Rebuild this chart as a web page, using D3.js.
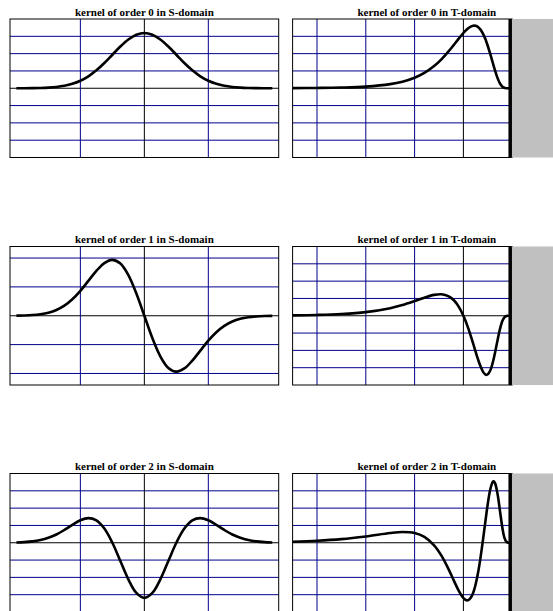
<!DOCTYPE html>
<html><head><meta charset="utf-8">
<script src="https://cdn.jsdelivr.net/npm/d3@7"></script>
<style>html,body{margin:0;padding:0;background:#fff;} svg{display:block;}</style>
</head><body><svg id="c" width="553" height="611"></svg>
<script>
// ---------- data ----------
const titles = [
  ["kernel of order 0 in S-domain", "kernel of order 0 in T-domain"],
  ["kernel of order 1 in S-domain", "kernel of order 1 in T-domain"],
  ["kernel of order 2 in S-domain", "kernel of order 2 in T-domain"]
];
// S-domain abscissa
const sX = [-2,-1.875,-1.75,-1.625,-1.5,-1.375,-1.25,-1.125,-1,-0.875,-0.75,-0.625,-0.5,-0.375,-0.25,-0.125,0,
            0.125,0.25,0.375,0.5,0.625,0.75,0.875,1,1.125,1.25,1.375,1.5,1.625,1.75,1.875,2];
const sOrder0 = [0.0003,0.0007,0.0017,0.0041,0.0089,0.0182,0.0351,0.0635,0.1080,0.1726,0.2591,0.3653,0.4839,0.6023,0.7041,0.7733,0.7979,
                 0.7733,0.7041,0.6023,0.4839,0.3653,0.2591,0.1726,0.1080,0.0635,0.0351,0.0182,0.0089,0.0041,0.0017,0.0007,0.0003];
const sOrder1 = [0.0021,0.0053,0.0122,0.0264,0.0532,0.1001,0.1755,0.2858,0.4320,0.6041,0.7773,0.9133,0.9678,0.9035,0.7041,0.3867,0,
                 -0.3867,-0.7041,-0.9035,-0.9678,-0.9133,-0.7773,-0.6041,-0.4320,-0.2858,-0.1755,-0.1001,-0.0532,-0.0264,-0.0122,-0.0053,-0.0021];
const sOrder2 = [0.0160,0.0369,0.0785,0.1553,0.2837,0.4774,0.7371,1.0319,1.2960,1.4236,1.2955,0.8219,0,-1.0540,-2.1123,-2.8999,-3.1916,
                 -2.8999,-2.1123,-1.0540,0,0.8219,1.2955,1.4236,1.2960,1.0319,0.7371,0.4774,0.2837,0.1553,0.0785,0.0369,0.0160];
// T-domain abscissa (time, "now" = 0)
const tT = [-4.5,-4,-3.5,-3,-2.5,-2.25,-2,-1.8,-1.6,-1.45,-1.3,-1.2,-1.1,-1,-0.95,-0.92,-0.9,-0.85,-0.8,-0.78,-0.75,-0.7,-0.65,-0.6,
            -0.55,-0.53,-0.5,-0.45,-0.4,-0.38,-0.35,-0.3,-0.25,-0.2,-0.16,-0.12,-0.08,-0.04,0];
const tOrder0 = [0.0019,0.0043,0.0099,0.0238,0.0595,0.0952,0.1526,0.2221,0.3206,0.4175,0.5348,0.6222,0.7123,0.7979,0.8355,0.8553,0.8671,0.8904,0.9029,0.9042,0.9016,0.8839,0.8470,0.7891,
                 0.7098,0.6724,0.6104,0.4954,0.3721,0.3229,0.2515,0.1464,0.0684,0.0225,0.0060,0.0008,0.0000,0,0];
const tOrder1 = [0.0116,0.0237,0.0495,0.1046,0.2182,0.3088,0.4231,0.5222,0.6027,0.6206,0.5613,0.4537,0.2716,0,-0.1714,-0.2853,-0.3654,-0.5788,-0.8059,-0.8986,-1.0375,-1.2610,-1.4594,-1.6124,
                 -1.6974,-1.7076,-1.6924,-1.5823,-1.3639,-1.2497,-1.0562,-0.7052,-0.3790,-0.1447,-0.0443,-0.0070,-0.0003,0,0];
const tOrder2 = [0.0619,0.1143,0.2085,0.3644,0.5615,0.6208,0.5627,0.3394,-0.1494,-0.7475,-1.5500,-2.1580,-2.7460,-3.1916,-3.3068,-3.3261,-3.3144,-3.1783,-2.8924,-2.7236,-2.4124,-1.7365,-0.8731,0.1383,
                 1.2199,1.6468,2.2507,3.0725,3.5104,3.5450,3.4292,2.8106,1.8285,0.8415,0.3002,0.0562,0.0028,0,0];
// grid ticks
const sXTicks = [-1, 0, 1];
const tXTicks = [-4, -3, -2, -1];
const yTicks0 = [-0.75,-0.5,-0.25,0,0.25,0.5,0.75];
const yTicks1s = [-1,-0.5,0,0.5,1];
const yTicks1t = [-1.5,-1,-0.5,0,0.5,1,1.5];
const yTicks2 = [-3,-2,-1,0,1,2,3];

// ---------- layout ----------
const svg = d3.select('#c');
const rowTop = [19, 246.5, 473.5];
const H = 138.5;
const GRID = '#00008b';

const specs = [
  {row:0, kind:'S', xs:sX, ys:sOrder0, yDom:[-1,1],     yTicks:yTicks0},
  {row:0, kind:'T', xs:tT, ys:tOrder0, yDom:[-1,1],     yTicks:yTicks0},
  {row:1, kind:'S', xs:sX, ys:sOrder1, yDom:[-1.2,1.2], yTicks:yTicks1s},
  {row:1, kind:'T', xs:tT, ys:tOrder1, yDom:[-2,2],     yTicks:yTicks1t},
  {row:2, kind:'S', xs:sX, ys:sOrder2, yDom:[-4,4],     yTicks:yTicks2},
  {row:2, kind:'T', xs:tT, ys:tOrder2, yDom:[-4,4],     yTicks:yTicks2}
];

specs.forEach((p, i) => {
  const y0 = rowTop[p.row];
  const isS = p.kind === 'S';
  const X0 = isS ? 10 : 292.6, X1 = isS ? 278.7 : 561;
  const x = d3.scaleLinear().domain(isS ? [-2.1, 2.1] : [-4.5, 1]).range([X0, X1]);
  const y = d3.scaleLinear().domain(p.yDom).range([y0 + H, y0]);
  const plotR = isS ? X1 : x(0);
  const g = svg.append('g');

  const clipId = 'clip' + i;
  svg.append('clipPath').attr('id', clipId).append('rect')
    .attr('x', X0).attr('y', y0).attr('width', plotR - X0).attr('height', H);

  // horizontal grid
  g.selectAll('line.h').data(p.yTicks).enter().append('line')
    .attr('x1', X0).attr('x2', plotR)
    .attr('y1', d => y(d)).attr('y2', d => y(d))
    .attr('stroke', d => d === 0 ? '#000' : GRID).attr('stroke-width', 1);
  // vertical grid
  const xt = isS ? sXTicks : tXTicks;
  const centre = isS ? 0 : -1;
  g.selectAll('line.v').data(xt).enter().append('line')
    .attr('x1', d => x(d)).attr('x2', d => x(d))
    .attr('y1', y0).attr('y2', y0 + H)
    .attr('stroke', d => d === centre ? '#000' : GRID).attr('stroke-width', 1);

  // curve
  const pts = p.xs.map((v, k) => [v, p.ys[k]]);
  g.append('path').datum(pts)
    .attr('clip-path', `url(#${clipId})`)
    .attr('d', d3.line().x(d => x(d[0])).y(d => y(d[1])).curve(d3.curveCatmullRom.alpha(0.5)))
    .attr('fill', 'none').attr('stroke', '#000').attr('stroke-width', 2.6)
    .attr('stroke-linejoin', 'round');

  // frame
  g.append('rect').attr('x', X0).attr('y', y0).attr('width', plotR - X0).attr('height', H)
    .attr('fill', 'none').attr('stroke', '#000').attr('stroke-width', 1);

  if (!isS) {
    g.append('rect').attr('x', x(0) - 1).attr('y', y0).attr('width', X1 - x(0) + 1).attr('height', H)
      .attr('fill', '#c0c0c0');
    g.append('line').attr('x1', x(0) - 2).attr('x2', x(0) - 2)
      .attr('y1', y0).attr('y2', y0 + H)
      .attr('stroke', '#000').attr('stroke-width', 3.5);
  }

  // title
  svg.append('text').attr('x', (X0 + X1) / 2).attr('y', y0 - 3.5)
    .attr('text-anchor', 'middle')
    .attr('font-family', '"Liberation Serif", "Times New Roman", serif')
    .attr('font-weight', 'bold').attr('font-size', 11)
    .text(titles[p.row][isS ? 0 : 1]);
});
</script></body></html>
